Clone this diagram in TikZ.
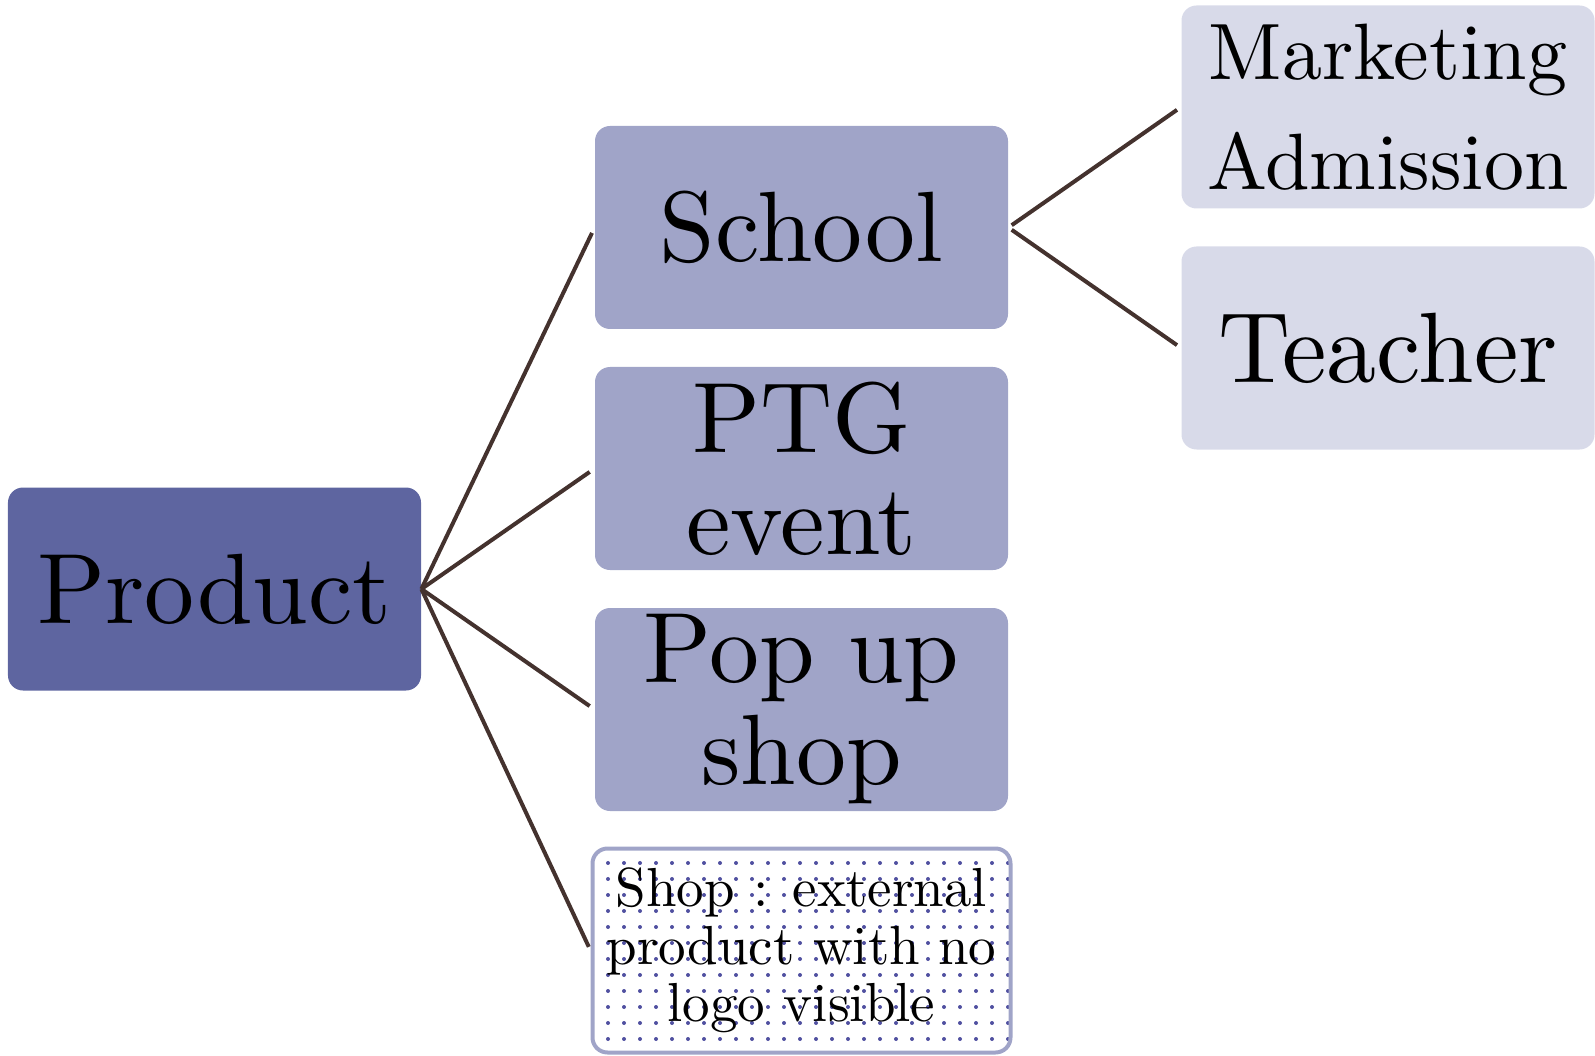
\documentclass[tikz,border=0pt]{standalone}
\usepackage{fontspec}
\setmainfont{lmroman10-regular.otf}
\usetikzlibrary{positioning,patterns.meta}

\definecolor{rootblue}{RGB}{94,101,160}
\definecolor{midblue}{RGB}{160,164,200}
\definecolor{leafblue}{RGB}{216,218,233}
\definecolor{linkbrown}{RGB}{68,50,46}
\definecolor{dotblue}{RGB}{80,80,160}

\tikzset{
  box/.style={rectangle, rounded corners=7.5pt, minimum width=206.5pt,
    minimum height=101.5pt, inner sep=0pt, align=center,
    font=\fontsize{50}{51}\selectfont},
  root/.style={box, fill=rootblue},
  mid/.style={box, fill=midblue},
  leaf/.style={box, fill=leafblue},
  shopbox/.style={box, draw=midblue, line width=2pt, minimum width=209pt,
    minimum height=102pt, pattern={Dots[distance=8pt,radius=1pt]},
    pattern color=dotblue, font=\fontsize{27.5}{28.8}\selectfont},
  link/.style={draw=linkbrown, line width=2pt},
}

\begin{document}
\begin{tikzpicture}[node distance=120.5pt, on grid]
    \useasboundingbox (-107.25pt,-233pt) rectangle (690.25pt,294.5pt);
    % root and first level
    \node[root] (product) {Product};
    \node[mid, above right=180.75pt and 293.5pt of product] (school) {School};
    \node[mid, below=of school] (ptg) {PTG\\event};
    \node[mid, below=of ptg] (popup) {Pop up\\shop};
    \node[shopbox, below=of popup] (shop) {Shop : external\\product with no\\logo visible};
    % second level
    \node[leaf, above right=60.25pt and 293.25pt of school, font=\fontsize{40}{55}\selectfont] (marketing) {Marketing\\Admission};
    \node[leaf, below=of marketing] (teacher) {Teacher};
    \path[link, shorten >=3pt]
        (product.east) edge (school.west)
                       edge (ptg.west)
                       edge (popup.west)
                       edge [shorten >=2pt] (shop.west);
    \path[link, shorten <=2pt, shorten >=2.5pt]
        (school.east) edge (marketing.west)
                      edge (teacher.west);
\end{tikzpicture}
\end{document}
